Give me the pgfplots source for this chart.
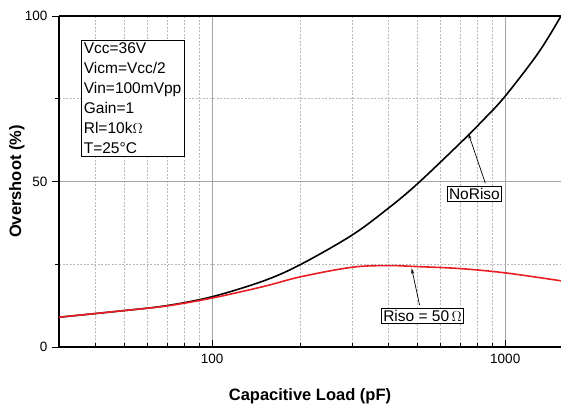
\documentclass[border=0pt]{standalone}
\usepackage{pgfplots}
\pgfplotsset{compat=1.18}
\usetikzlibrary{arrows.meta}
\usepackage{fontspec}
\setmainfont{Liberation Sans}
\definecolor{rline}{RGB}{232,30,36}
\definecolor{gmaj}{RGB}{165,165,165}
\definecolor{gmin}{RGB}{185,185,185}
\begin{document}
\begin{tikzpicture}
\begin{axis}[
  name=ax,
  scale only axis, width=502pt, height=331pt,
  xmode=log, xmin=30, xmax=1550, ymin=0, ymax=100,
  log basis x=10,
  xtick={100,1000}, xticklabels={100,1000},
  minor xtick={40,50,60,70,80,90,200,300,400,500,600,700,800,900},
  ytick={0,50,100}, minor ytick={25,75},
  axis x line*=box, axis y line*=left,
  xtick pos=bottom, ytick pos=left,
  xtick align=inside, ytick align=outside,
  major tick length=7pt, minor tick length=4pt,
  every tick/.style={black, line width=0.9pt},
  minor tick style={black, line width=0.6pt},
  axis line style={black, line width=1.1pt},
  xmajorgrids, xminorgrids, ymajorgrids, yminorgrids,
  major grid style={gmaj, line width=0.9pt},
  minor grid style={gmin, dash pattern=on 2pt off 1.5pt, line width=0.6pt},
  /pgf/number format/assume math mode=true,
  tick label style={font=\fontsize{13.5}{15}\selectfont},
  xticklabel style={yshift=-4pt},
  yticklabel style={xshift=-1pt},
  log ticks with fixed point,
  xlabel={\bfseries Capacitive Load (pF)},
  ylabel={\bfseries Overshoot (\%)},
  label style={font=\fontsize{16.5}{18}\selectfont},
  xlabel style={at={(axis description cs:0.5,0)}, anchor=base, yshift=-53pt},
  ylabel style={at={(axis description cs:0,0.5)}, anchor=base, xshift=0pt, yshift=38pt},
  clip=true,
]
\addplot[black, line width=1.6pt, smooth, tension=0.55] coordinates {
(30,9.0) (50,11.0) (70,12.5) (100,15.2)
(150,20.0) (200,24.9) (300,33.8) (400,42.0) (500,49.2) (700,61.5)
(850,69.0) (1000,75.8) (1300,89.0) (1550,100)};
\addplot[rline, line width=1.6pt, smooth, tension=0.55] coordinates {
(30,9.0) (50,11.0) (70,12.4) (100,14.8) (150,18.3) (200,21.2)
(300,24.1) (400,24.6) (500,24.3) (700,23.7) (1000,22.4) (1550,20.0)};
\draw[-{Stealth[length=6pt,width=3pt]}, line width=0.7pt] (axis cs:855,49.5) -- (axis cs:748,64.6);
\draw[-{Stealth[length=6pt,width=3pt]}, line width=0.7pt] (axis cs:510,12.7) -- (axis cs:479,23.9);
\node[draw=black, fill=white, line width=0.7pt, inner sep=2pt, font=\fontsize{15.5}{18}\selectfont] at (axis cs:785,46.2) {NoRiso};
\node[draw=black, fill=white, line width=0.7pt, inner sep=2pt, font=\fontsize{15.5}{18}\selectfont] at (axis cs:522,9.4) {Riso = 50$\,\Omega$};
\node[draw=black, fill=white, line width=0.7pt, inner sep=2.5pt, anchor=north west, align=left,
  font=\fontsize{15.5}{20}\selectfont] at (axis description cs:0.0438,0.927)
  {Vcc=36V\\Vicm=Vcc/2\\Vin=100mVpp\\Gain=1\\Rl=10k$\Omega$\\T=25°C};
\end{axis}
\pgfresetboundingbox
\path[use as bounding box] ([shift={(-59pt,-61pt)}]ax.south west) rectangle ([shift={(0pt,16pt)}]ax.north east);
\end{tikzpicture}
\end{document}
